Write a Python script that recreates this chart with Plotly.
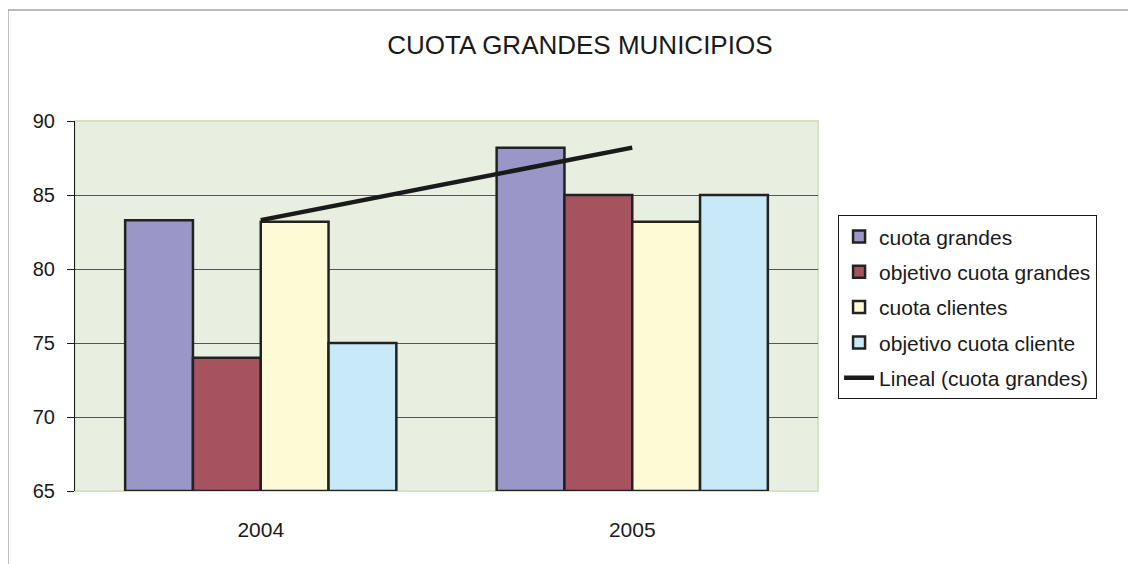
import numpy as np
import plotly.graph_objects as go

years = ["2004", "2005"]
cuota_grandes = [83.3, 88.2]
objetivo_cuota_grandes = [74.0, 85.0]
cuota_clientes = [83.2, 83.2]
objetivo_cuota_cliente = [75.0, 85.0]

series = [
    ("cuota grandes", cuota_grandes, "#9b96c8"),
    ("objetivo cuota grandes", objetivo_cuota_grandes, "#a5535f"),
    ("cuota clientes", cuota_clientes, "#fefad6"),
    ("objetivo cuota cliente", objetivo_cuota_cliente, "#c8e9f8"),
]

fig = go.Figure()
for i, (name, vals, col) in enumerate(series):
    fig.add_trace(go.Bar(x=years, y=[v - 65 for v in vals], base=65, name=name,
                         marker=dict(color=col, line=dict(color="#222222", width=2.5)),
                         legendgroup=str(i)))

# linear trendline of cuota grandes
xi = np.arange(len(years))
coef = np.polyfit(xi, cuota_grandes, 1)
fig.add_trace(go.Scatter(x=years, y=np.polyval(coef, xi), mode="lines", name="Lineal (cuota grandes)",
                         line=dict(color="#1a1a1a", width=4.5), legendgroup="9"))

fig.update_layout(
    width=1128, height=556,
    margin=dict(l=67, r=318, t=113, b=73),
    paper_bgcolor="white", plot_bgcolor="#e8eee0",
    font=dict(family="Liberation Sans, Arial, sans-serif", size=20, color="#1a1a1a"),
    title=dict(text="CUOTA GRANDES MUNICIPIOS", x=0.507, xanchor="center", y=0.933, yanchor="middle",
               font=dict(size=26, color="#1a1a1a")),
    barmode="group", bargap=0.27, bargroupgap=0,
    showlegend=True,
    legend=dict(x=1.027, y=0.745, xanchor="left", yanchor="top", bgcolor="white",
                bordercolor="#1a1a1a", borderwidth=1, tracegroupgap=5,
                font=dict(size=21)),
    xaxis=dict(showgrid=False, showline=False, ticks="", ticklabelstandoff=24,
               tickfont=dict(size=21)),
    yaxis=dict(range=[65, 90], dtick=5, showgrid=True, gridcolor="#555555", gridwidth=1,
               showline=True, linecolor="#1a1a1a", linewidth=1, ticks="outside", ticklen=7,
               tickcolor="#1a1a1a", ticklabelstandoff=8, zeroline=False),
    shapes=[
        dict(type="rect", xref="paper", yref="paper", x0=0, x1=1, y0=0, y1=1,
             line=dict(color="#d5e2c0", width=2), layer="below"),
        dict(type="rect", xref="paper", yref="paper", x0=-0.0902, x1=1.44, y0=-0.3, y1=1.3,
             line=dict(color="#777777", width=1)),
    ],
)

fig.write_html("out.html")
